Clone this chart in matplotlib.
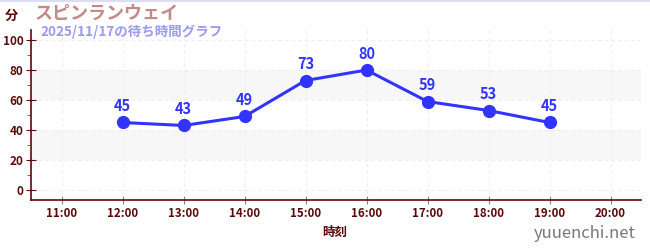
import matplotlib
matplotlib.use("Agg")
import matplotlib.pyplot as plt

plt.rcParams['font.family'] = ['Noto Sans CJK JP', 'DejaVu Sans']

# wait times (minutes) by hour
hours = [12, 13, 14, 15, 16, 17, 18, 19]
waits = [45, 43, 49, 73, 80, 59, 53, 45]
tick_hours = [11, 12, 13, 14, 15, 16, 17, 18, 19, 20]
tick_labels = ["%d:00" % h for h in tick_hours]

title = "スピンランウェイ"
subtitle = "2025/11/17の待ち時間グラフ"

dark = "#5a0a0a"
blue = "#3333ff"

fig = plt.figure(figsize=(6.5, 2.5), dpi=100)
ax = fig.add_axes([31/650, 50/250, 610/650, 170/250])

# alternating bands
for lo in (20, 60):
    ax.axhspan(lo, lo + 20, color="#f7f7f7", zorder=0, lw=0)

ax.plot(hours, waits, color=blue, lw=2.2, marker="o", ms=8.5, zorder=3)
for h, w in zip(hours, waits):
    ax.annotate(str(w), (h, w), xytext=(0, 6), textcoords="offset points",
                ha="center", va="bottom", color=blue, fontsize=10.5,
                fontweight="bold")

ax.set_xlim(10.5, 20.5)
ax.set_ylim(-6.7, 106.7)
ax.set_xticks(tick_hours)
ax.set_xticklabels(tick_labels)
ax.set_yticks(range(0, 101, 20))
ax.set_yticks(range(10, 100, 20), minor=True)
ax.grid(True, which="major", color="#ededed", ls=(0, (3, 3)), lw=0.8)

for s in ("top", "right"):
    ax.spines[s].set_visible(False)
for s in ("left", "bottom"):
    ax.spines[s].set_color(dark)
    ax.spines[s].set_linewidth(1.2)

ax.tick_params(axis="x", direction="inout", length=6, color="#888888",
               labelcolor=dark, labelsize=8.3, pad=2)
ax.tick_params(axis="y", which="major", direction="inout", length=7,
               color=dark, labelcolor=dark, labelsize=8.5, pad=2)
ax.tick_params(axis="y", which="minor", direction="out", length=3,
               color="red")
for lab in ax.get_xticklabels() + ax.get_yticklabels():
    lab.set_fontweight("bold")

fig.text(0.5 + 10/650, 18/250, "時刻", ha="center", va="center",
         color=dark, fontsize=9, fontweight="bold")
fig.text(5/650, 1 - 16/250, "分", ha="left", va="center", color=dark,
         fontsize=9.5, fontweight="bold")
fig.text(35/650, 1 - 13/250, title, ha="left", va="center",
         color="#c48a8a", fontsize=13, fontweight="bold")
fig.text(40/650, 1 - 32/250, subtitle, ha="left", va="center",
         color="#9a9aee", fontsize=9.7, fontweight="bold")
fig.text(636/650, 16/250, "yuuenchi.net", ha="right", va="center",
         color="#777777", fontsize=12)

fig.add_artist(plt.Line2D([0, 1], [0.998, 0.998], color="#dcdcf5", lw=1.5))

fig.savefig("out.png", dpi=100)
